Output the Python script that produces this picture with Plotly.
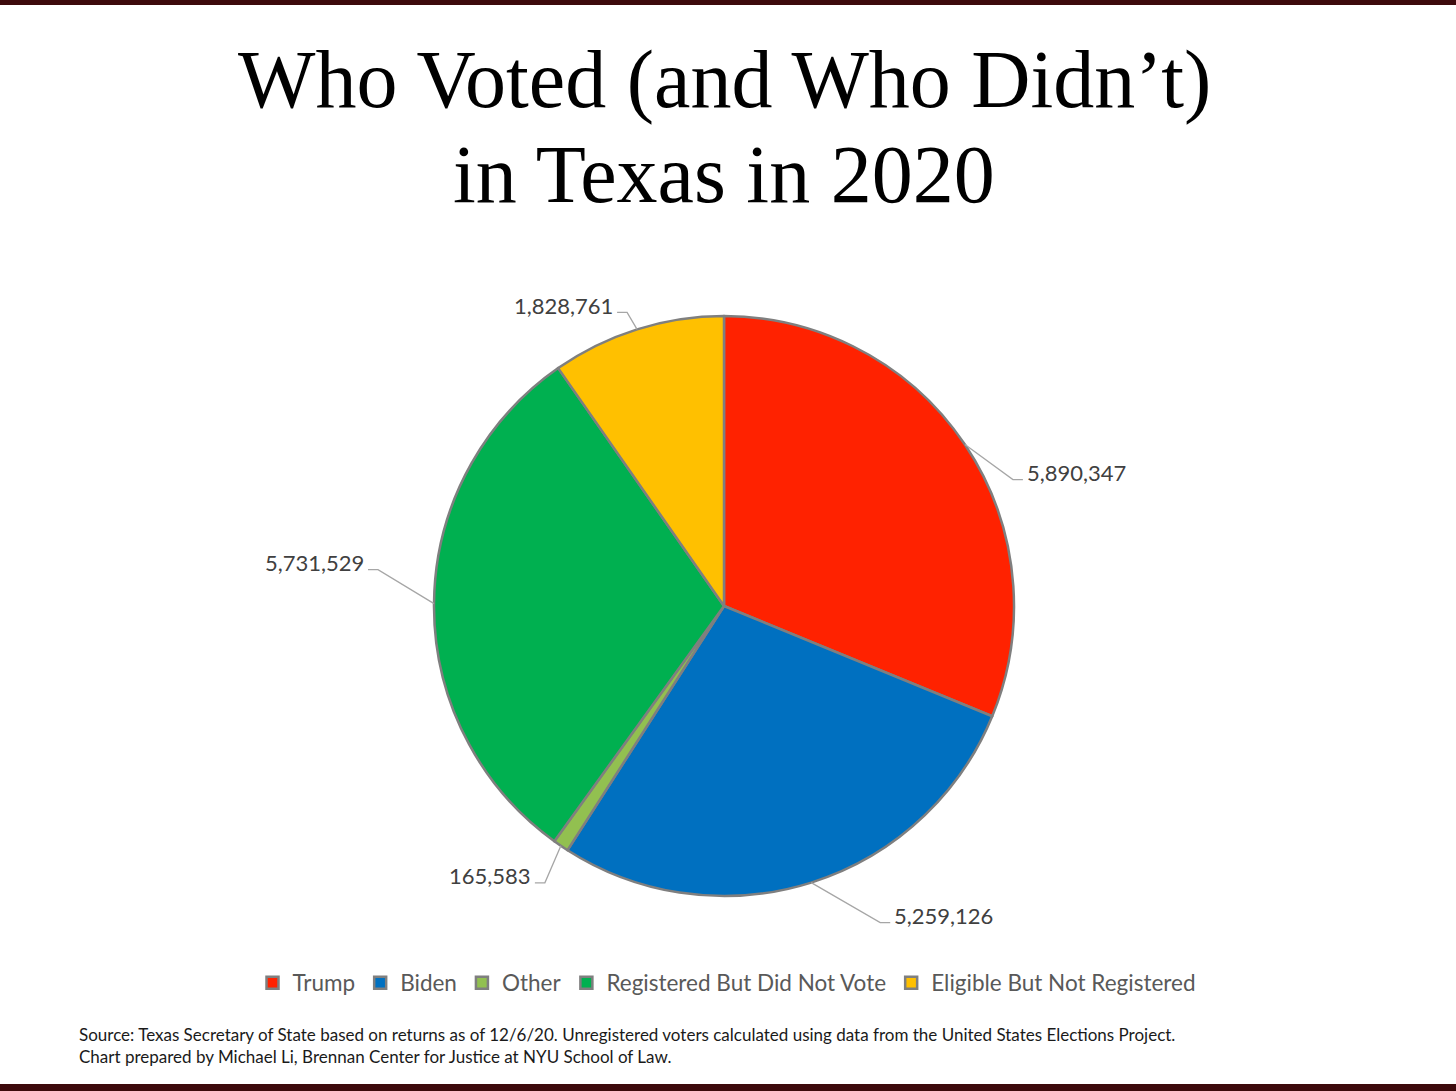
import math
import plotly.graph_objects as go

# ---------------- data ----------------
categories = ["Trump", "Biden", "Other", "Registered But Did Not Vote", "Eligible But Not Registered"]
values = [5890347, 5259126, 165583, 5731529, 1828761]
value_labels = ["5,890,347", "5,259,126", "165,583", "5,731,529", "1,828,761"]

# ---------------- style ----------------
colors = ["#FF2200", "#0070C0", "#92C050", "#00B050", "#FFC000"]
W, H = 1456, 1091
CX, CY, R = 724, 606, 290          # pie centre / radius in pixels
# elbow offsets of leader lines (pixels, relative to slice-edge point)
label_offsets = [(48, 35), (69, 40), (-16, 37), (-56, -34), (-10, -17)]


def px(x, y):
    return x / W, 1 - y / H


fig = go.Figure()
fig.add_trace(go.Pie(
    labels=categories,
    values=values,
    sort=False,
    direction="clockwise",
    rotation=0,
    marker=dict(colors=colors, line=dict(color="#7F7F7F", width=2.5)),
    textinfo="none",
    hoverinfo="label+value",
    domain=dict(x=[(CX - R) / W, (CX + R) / W], y=[1 - (CY + R) / H, 1 - (CY - R) / H]),
))

shapes = []
annotations = []

# leader lines + value labels computed from slice mid angles
total = sum(values)
cum = 0.0
for v, lab, (dx, dy) in zip(values, value_labels, label_offsets):
    mid = (cum + v / 2) / total * 2 * math.pi
    cum += v
    ex = CX + R * math.sin(mid)
    ey = CY - R * math.cos(mid)
    bx, by = ex + dx, ey + dy
    side = 1 if math.sin(mid) > 0 else -1
    hx = bx + side * 10
    x0, y0 = px(ex, ey)
    x1, y1 = px(bx, by)
    x2, y2 = px(hx, by)
    shapes.append(dict(type="path", xref="paper", yref="paper",
                       path=f"M {x0},{y0} L {x1},{y1} L {x2},{y2}",
                       line=dict(color="#A6A6A6", width=1.3)))
    tx, ty = px(hx + side * 2, by - 7)
    annotations.append(dict(x=tx, y=ty, xref="paper", yref="paper", text=lab,
                            showarrow=False, xanchor="left" if side > 0 else "right",
                            yanchor="middle",
                            font=dict(family="Lato", size=22, color="#404040")))

# title (two lines)
for txt, yc in [("Who Voted (and Who Didn\u2019t)", 80), ("in Texas in 2020", 175)]:
    annotations.append(dict(x=724 / W, y=1 - yc / H, xref="paper", yref="paper", text=txt,
                            showarrow=False, xanchor="center", yanchor="middle",
                            font=dict(family="Liberation Serif", size=82, color="#000000")))

# source notes
for txt, yc in [("Source: Texas Secretary of State based on returns as of 12/6/20. Unregistered voters calculated using data from the United States Elections Project.", 1034),
                ("Chart prepared by Michael Li, Brennan Center for Justice at NYU School of Law.", 1056)]:
    annotations.append(dict(x=77 / W, y=1 - yc / H, xref="paper", yref="paper", text=txt,
                            showarrow=False, xanchor="left", yanchor="middle",
                            font=dict(family="Lato", size=17, color="#1A1A1A")))

# dark frame bars top and bottom
shapes.append(dict(type="rect", xref="paper", yref="paper", x0=0, x1=1,
                   y0=1 - 5 / H, y1=1, fillcolor="#3D0A0C", line=dict(width=0)))
shapes.append(dict(type="rect", xref="paper", yref="paper", x0=0, x1=1,
                   y0=0, y1=7 / H, fillcolor="#3D0A0C", line=dict(width=0)))

fig.update_layout(
    width=W, height=H, autosize=False,
    margin=dict(l=0, r=0, t=0, b=0),
    paper_bgcolor="white", plot_bgcolor="white",
    showlegend=True,
    legend=dict(orientation="h", x=727 / W, xanchor="center", y=1 - 983 / H, yanchor="middle",
                font=dict(family="Lato", size=22.5, color="#595959"),
                itemwidth=30, traceorder="normal"),
    shapes=shapes,
    annotations=annotations,
)

fig.write_html("out.html", config={"displayModeBar": False},
               post_script="document.body.style.margin='0';document.body.style.overflow='hidden';")
